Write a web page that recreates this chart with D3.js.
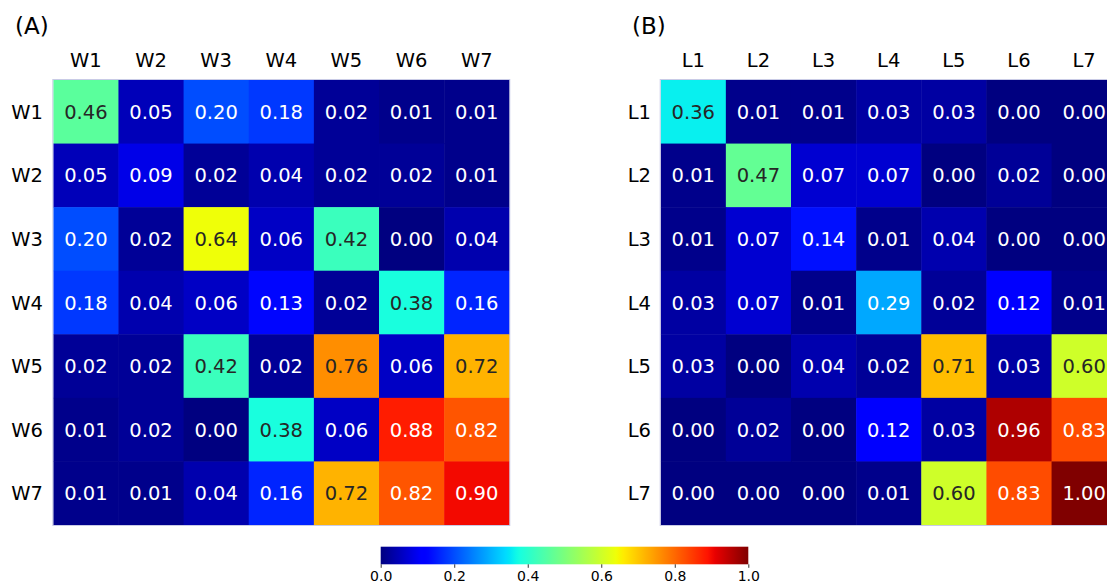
<!DOCTYPE html>
<html><head><meta charset="utf-8">
<script src="https://cdn.jsdelivr.net/npm/d3@7"></script>
<style>body{margin:0;background:#fff}svg{display:block;font-family:"DejaVu Sans",sans-serif}</style>
</head><body><svg id="c" width="1107" height="588"></svg>
<script>
const wLabels = ["W1","W2","W3","W4","W5","W6","W7"];
const lLabels = ["L1","L2","L3","L4","L5","L6","L7"];
const wValues = [
  [0.46,0.05,0.20,0.18,0.02,0.01,0.01],
  [0.05,0.09,0.02,0.04,0.02,0.02,0.01],
  [0.20,0.02,0.64,0.06,0.42,0.00,0.04],
  [0.18,0.04,0.06,0.13,0.02,0.38,0.16],
  [0.02,0.02,0.42,0.02,0.76,0.06,0.72],
  [0.01,0.02,0.00,0.38,0.06,0.88,0.82],
  [0.01,0.01,0.04,0.16,0.72,0.82,0.90]
];
const lValues = [
  [0.36,0.01,0.01,0.03,0.03,0.00,0.00],
  [0.01,0.47,0.07,0.07,0.00,0.02,0.00],
  [0.01,0.07,0.14,0.01,0.04,0.00,0.00],
  [0.03,0.07,0.01,0.29,0.02,0.12,0.01],
  [0.03,0.00,0.04,0.02,0.71,0.03,0.60],
  [0.00,0.02,0.00,0.12,0.03,0.96,0.83],
  [0.00,0.00,0.00,0.01,0.60,0.83,1.00]
];
const cbTicks = [0.0,0.2,0.4,0.6,0.8,1.0];

// matplotlib jet
const jetSeg = {
  r: [[0,0],[0.35,0],[0.66,1],[0.89,1],[1,0.5]],
  g: [[0,0],[0.125,0],[0.375,1],[0.64,1],[0.91,0],[1,0]],
  b: [[0,0.5],[0.11,1],[0.34,1],[0.65,0],[1,0]]
};
function segInterp(seg, t){
  t = Math.max(0, Math.min(1, t));
  for (let i=1;i<seg.length;i++){
    if (t <= seg[i][0]){
      const [x0,y0]=seg[i-1],[x1,y1]=seg[i];
      return y0 + (y1-y0)*(t-x0)/(x1-x0);
    }
  }
  return seg[seg.length-1][1];
}
function jetRGB(t){ return [segInterp(jetSeg.r,t),segInterp(jetSeg.g,t),segInterp(jetSeg.b,t)]; }
function jet(t){ const [r,g,b]=jetRGB(t); return d3.rgb(Math.round(r*255),Math.round(g*255),Math.round(b*255)).formatHex(); }
function lum(t){
  const lin = c => c<=0.04045 ? c/12.92 : Math.pow((c+0.055)/1.055,2.4);
  const [r,g,b]=jetRGB(t);
  return 0.2126*lin(r)+0.7152*lin(g)+0.0722*lin(b);
}
const color = d3.scaleSequential(jet).domain([0,1]);

const svg = d3.select("#c");

function panel(labels, values, x0, title, titleX, rowLabelX){
  const x = d3.scaleBand().domain(labels).range([x0, x0+456]);
  const y = d3.scaleBand().domain(labels).range([80, 525]);
  const g = svg.append("g");
  const cells = [];
  values.forEach((row,i)=>row.forEach((v,j)=>cells.push({r:labels[i],c:labels[j],v})));
  g.selectAll("rect.cell").data(cells).join("rect").attr("class","cell")
    .attr("x",d=>x(d.c)).attr("y",d=>y(d.r))
    .attr("width",x.bandwidth()+0.5).attr("height",y.bandwidth()+0.5)
    .attr("fill",d=>color(d.v));
  g.append("rect").attr("x",x0-0.5).attr("y",79.5).attr("width",457).attr("height",446)
    .attr("fill","none").attr("stroke","#c9cbe6").attr("stroke-width",1);
  g.selectAll("text.val").data(cells).join("text").attr("class","val")
    .attr("x",d=>x(d.c)+x.bandwidth()/2).attr("y",d=>y(d.r)+y.bandwidth()/2)
    .attr("dy","0.36em").attr("text-anchor","middle").attr("font-size",19.5)
    .attr("fill",d=>lum(d.v)>0.38 ? "#262626" : "#ffffff")
    .text(d=>d.v.toFixed(2));
  g.selectAll("text.col").data(labels).join("text").attr("class","col")
    .attr("x",d=>x(d)+x.bandwidth()/2).attr("y",66.5).attr("text-anchor","middle")
    .attr("font-size",19.5).attr("fill","#000").text(d=>d);
  g.selectAll("text.row").data(labels).join("text").attr("class","row")
    .attr("x",rowLabelX).attr("y",d=>y(d)+y.bandwidth()/2).attr("dy","0.36em")
    .attr("text-anchor","end").attr("font-size",19.5).attr("fill","#000").text(d=>d);
  g.append("text").attr("x",titleX).attr("y",34).attr("font-size",23).attr("fill","#000").text(title);
}
panel(wLabels, wValues, 53.3, "(A)", 15, 43);
panel(lLabels, lValues, 660.7, "(B)", 632, 651);

// colorbar
const cbX = d3.scaleLinear().domain([0,1]).range([380.7, 748.3]);
const defs = svg.append("defs");
const grad = defs.append("linearGradient").attr("id","jetg").attr("x1","0%").attr("x2","100%");
d3.range(0,101).forEach(i=>grad.append("stop").attr("offset",i+"%").attr("stop-color",jet(i/100)));
svg.append("rect").attr("x",cbX(0)).attr("y",546.7).attr("width",cbX(1)-cbX(0)).attr("height",17.6)
  .attr("fill","url(#jetg)");
const ax = svg.append("g").attr("transform","translate(0,564.3)")
  .call(d3.axisBottom(cbX).tickValues(cbTicks).tickFormat(d3.format(".1f")).tickSize(3.5).tickPadding(3));
ax.select(".domain").remove();
ax.selectAll("text").attr("font-size",14).attr("font-family","DejaVu Sans").attr("fill","#000");
ax.selectAll("line").attr("stroke","#000").attr("stroke-width",0.8);
</script></body></html>
